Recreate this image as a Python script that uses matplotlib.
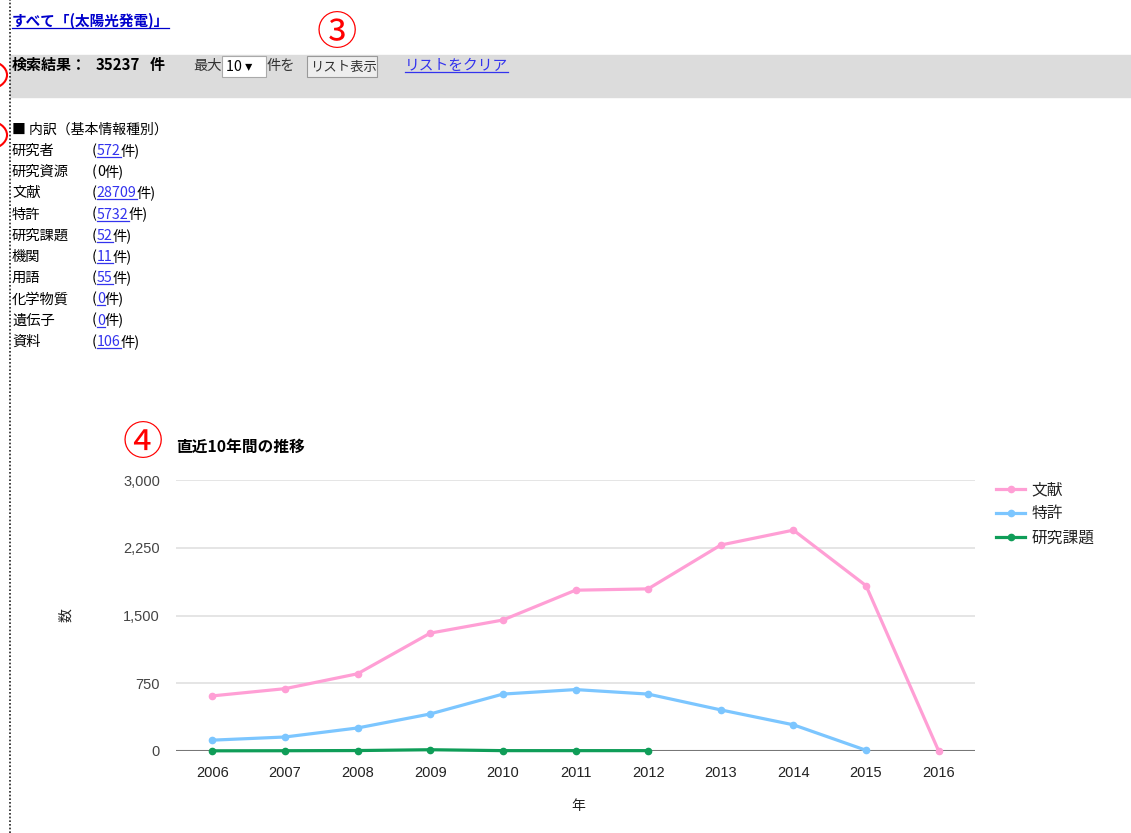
import matplotlib.pyplot as plt
from matplotlib.lines import Line2D
from matplotlib.patches import Rectangle

plt.rcParams['font.family'] = ['Noto Sans CJK JP', 'DejaVu Sans']

W, H = 1131, 833

years = [2006, 2007, 2008, 2009, 2010, 2011, 2012, 2013, 2014, 2015, 2016]
bunken = [610, 690, 855, 1305, 1450, 1780, 1795, 2280, 2445, 1830, 0]
tokkyo_years = [2006, 2007, 2008, 2009, 2010, 2011, 2012, 2013, 2014, 2015]
tokkyo = [120, 155, 255, 410, 630, 680, 630, 455, 290, 8]
kadai_years = [2006, 2007, 2008, 2009, 2010, 2011, 2012]
kadai = [2, 3, 5, 14, 4, 4, 4]
yticks = [0, 750, 1500, 2250, 3000]

kinds = ['研究者', '研究資源', '文献', '特許', '研究課題', '機関', '用語', '化学物質', '遺伝子', '資料']
counts = ['572', '0', '28709', '5732', '52', '11', '55', '0', '0', '106']
linked = [True, False, True, True, True, True, True, True, True, True]

BLUE = '#0000cc'
LINK = '#3333ee'
LATIN = ['Liberation Sans', 'Noto Sans CJK JP']

fig = plt.figure(figsize=(W / 100, H / 100), dpi=100)
renderer = fig.canvas.get_renderer()


def fx(x):
    return x / W


def fy(y):
    return 1 - y / H


def run(x, y, parts, size=10.3):
    """parts: (text, colour, underline, bold); y = text baseline in px"""
    for s, c, ul, bold in parts:
        t = fig.text(fx(x), fy(y), s, color=c, fontsize=size, va='baseline',
                     fontweight='bold' if bold else 'normal')
        w = t.get_window_extent(renderer).width
        if ul:
            fig.add_artist(Line2D([fx(x), fx(x + w)], [fy(y + 2), fy(y + 2)],
                                  color=c, lw=0.9, transform=fig.transFigure))
        x += w
    return x


# page decoration
fig.add_artist(Rectangle((fx(10), fy(97)), fx(W - 10), 42 / H, color='#dcdcdc',
                         transform=fig.transFigure, zorder=0))
fig.add_artist(Line2D([fx(10), fx(10)], [0, 1], color='#222222', lw=1.2,
                      ls=(0, (1, 1.2)), transform=fig.transFigure))
for cy in (75, 135):
    fig.add_artist(plt.Circle((fx(-12), fy(cy)), 14 / H, fill=False, color='red',
                              lw=1.5, transform=fig.transFigure))

run(12, 26, [('すべて「(太陽光発電)」', BLUE, True, True)], size=10.5)
fig.text(fx(337), fy(33), '③', color='red', fontsize=29, ha='center', va='center')
run(12, 70, [('検索結果：', '#000000', False, True)], size=10.8)
run(96, 70, [('35237', '#000000', False, True)], size=10.8)
run(150, 70, [('件', '#000000', False, True)], size=10.8)
run(193, 70, [('最大', '#333333', False, False)])
fig.add_artist(Rectangle((fx(222), fy(77)), 44 / W, 21 / H, facecolor='white',
                         edgecolor='#aaaaaa', lw=0.8, transform=fig.transFigure))
run(226, 71, [('10 ▾', '#000000', False, False)])
run(267, 70, [('件を', '#333333', False, False)])
fig.add_artist(Rectangle((fx(307), fy(77)), 70 / W, 21 / H, facecolor='#eeeeee',
                         edgecolor='#999999', lw=0.8, transform=fig.transFigure))
run(310, 71, [('リスト表示', '#333333', False, False)], size=9.6)
run(405, 70, [('リストをクリア', LINK, True, False)], size=10.6)

run(12, 134, [('■ 内訳（基本情報種別）', '#000000', False, False)], size=10)
for i, (k, c, l) in enumerate(zip(kinds, counts, linked)):
    yy = 155 + i * 21.2
    run(12, yy, [(k, '#000000', False, False)], size=10.3)
    run(92, yy, [('(', '#000000', False, False), (c, LINK if l else '#000000', l, False),
                 ('件)', '#000000', False, False)], size=10.3)

fig.text(fx(143), fy(444), '④', color='red', fontsize=29, ha='center', va='center')
fig.text(fx(176), fy(447), '直近10年間の推移', fontsize=11.3, fontweight='bold',
         va='center', color='#000000')

# chart
ax = fig.add_axes([fx(176), fy(751), (975 - 176) / W, (751 - 480) / H])
ax.plot(years, bunken, color='#ff9fd5', lw=2.3, marker='o', ms=4.5, clip_on=False,
        label='文献', zorder=3)
ax.plot(tokkyo_years, tokkyo, color='#7cc6ff', lw=2.3, marker='o', ms=4.5, clip_on=False,
        label='特許', zorder=3)
ax.plot(kadai_years, kadai, color='#0f9d58', lw=2.3, marker='o', ms=4.5, clip_on=False,
        label='研究課題', zorder=4)
ax.set_xlim(2005.5, 2016.5)
ax.set_ylim(0, 3000)
ax.set_yticks(yticks)
ax.set_yticklabels([f'{v:,}' for v in yticks], color='#444444', fontsize=10.5,
                   family=LATIN)
ax.set_xticks(years)
ax.set_xticklabels([str(y) for y in years], color='#222222', fontsize=10.5,
                   family=LATIN)
ax.tick_params(length=0, pad=11)
ax.tick_params(axis='y', pad=11.5)
ax.grid(axis='y', color='#e0e0e0', lw=1.2)
ax.axhline(0, color='#777777', lw=1.5, zorder=2)
for s in ax.spines.values():
    s.set_visible(False)
fig.text(fx(66), fy(615), '数', rotation=90, style='italic', fontsize=10,
         ha='center', va='center', color='#222222')
fig.text(fx(578), fy(806), '年', style='italic', fontsize=10, ha='center',
         va='center', color='#222222')
ax.legend(loc='upper left', bbox_to_anchor=(fx(982), fy(467)), bbox_transform=fig.transFigure,
          frameon=False, fontsize=11.3, handlelength=1.85, handletextpad=0.4,
          labelspacing=0.45, labelcolor='#222222')

fig.savefig('out.png', dpi=100)
